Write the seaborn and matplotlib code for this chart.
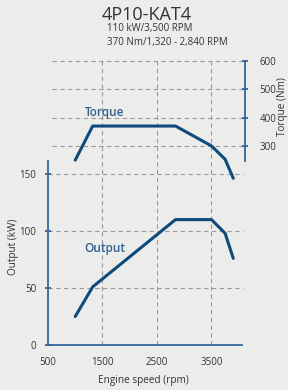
import matplotlib
matplotlib.use("Agg")
import matplotlib.pyplot as plt
import pandas as pd
import seaborn as sns

# Werte
rpm = [1000, 1320, 2840, 3500, 3750, 3900]
torque_nm = [250, 370, 370, 300, 253, 186]
output_kw = [25, 51, 110, 110, 98, 76]

x_ticks = [500, 1500, 2500, 3500]
output_ticks = [0, 50, 100, 150]
torque_ticks = [300, 400, 500, 600]

title = "4P10-KAT4"
subtitle = ["110 kW/3,500 RPM", "370 Nm/1,320 - 2,840 RPM"]

df = pd.DataFrame({"rpm": rpm, "torque": torque_nm, "output": output_kw})

sns.set_style("white")
plt.rcParams["font.family"] = ["Open Sans", "DejaVu Sans"]

bg = "#ecedea"
line_col = "#0f4a7c"
spine_col = "#33689a"
label_col = "#2f5f8f"
text_col = "#333333"
grid_kw = dict(color="#9a9a9a", linestyle=(0, (4, 3)), linewidth=0.8)

fig = plt.figure(figsize=(2.88, 3.90), dpi=100, facecolor=bg)
ax = fig.add_axes([48 / 288, 1 - 345 / 390, 197 / 288, 285 / 390])
ax.set_facecolor("none")
ax2 = ax.twinx()
ax2.set_facecolor("none")

# Achsenbereiche
ax.set_xlim(500, 4115)
ax.set_ylim(0, 250)
ax2.set_ylim(-401, 602.5)

# Gitternetz
for xv in x_ticks[1:]:
    ax.axvline(xv, zorder=0, **grid_kw)
for yv in output_ticks[1:]:
    ax.axhline(yv, xmax=0.99, zorder=0, **grid_kw)
for yv in torque_ticks:
    ax2.axhline(yv, xmin=0.02, zorder=0, **grid_kw)

sns.lineplot(data=df, x="rpm", y="output", ax=ax, color=line_col,
             linewidth=2.2, errorbar=None, zorder=3)
sns.lineplot(data=df, x="rpm", y="torque", ax=ax2, color=line_col,
             linewidth=2.2, errorbar=None, zorder=3)

ax.text(1546, 85, "Output", color=label_col, fontsize=8.5,
        fontweight="semibold", ha="center", va="center")
ax2.text(1546, 419, "Torque", color=label_col, fontsize=8.5,
         fontweight="semibold", ha="center", va="center")

# Achsen
for a in (ax, ax2):
    for s in a.spines.values():
        s.set_visible(False)
        s.set_color(spine_col)
        s.set_linewidth(1.3)

ax.spines["left"].set_visible(True)
ax.spines["left"].set_bounds(0, 161)
ax.spines["bottom"].set_visible(True)
ax.spines["bottom"].set_bounds(500, 4060)
ax2.spines["right"].set_visible(True)
ax2.spines["right"].set_bounds(248, 600)

ax.set_xticks(x_ticks)
ax.set_yticks(output_ticks)
ax2.set_yticks(torque_ticks)

tick_kw = dict(direction="inout", length=5, width=1.3, color=spine_col,
               labelcolor=text_col, labelsize=7)
ax.tick_params(axis="x", pad=6, **tick_kw)
ax.tick_params(axis="y", pad=6, **tick_kw)
ax2.tick_params(axis="y", pad=8, **tick_kw)

ax.set_xlabel("Engine speed (rpm)", fontsize=7.2, color=text_col, va="center")
ax.set_ylabel("Output (kW)", fontsize=7.2, color=text_col, va="center")
ax2.set_ylabel("Torque (Nm)", fontsize=7.2, color=text_col, va="center")
ax.xaxis.set_label_coords(0.482, -0.126)
ax.yaxis.set_label_coords(-0.173, 0.344)
ax2.yaxis.set_label_coords(1.19, 0.835)

fig.text(0.51, 0.962, title, fontsize=13, color=text_col,
         ha="center", va="center")
fig.text(0.372, 0.926, subtitle[0], fontsize=7, color=text_col, va="center")
fig.text(0.372, 0.892, subtitle[1], fontsize=7, color=text_col, va="center")

fig.savefig("out.png", dpi=100, facecolor=bg)
